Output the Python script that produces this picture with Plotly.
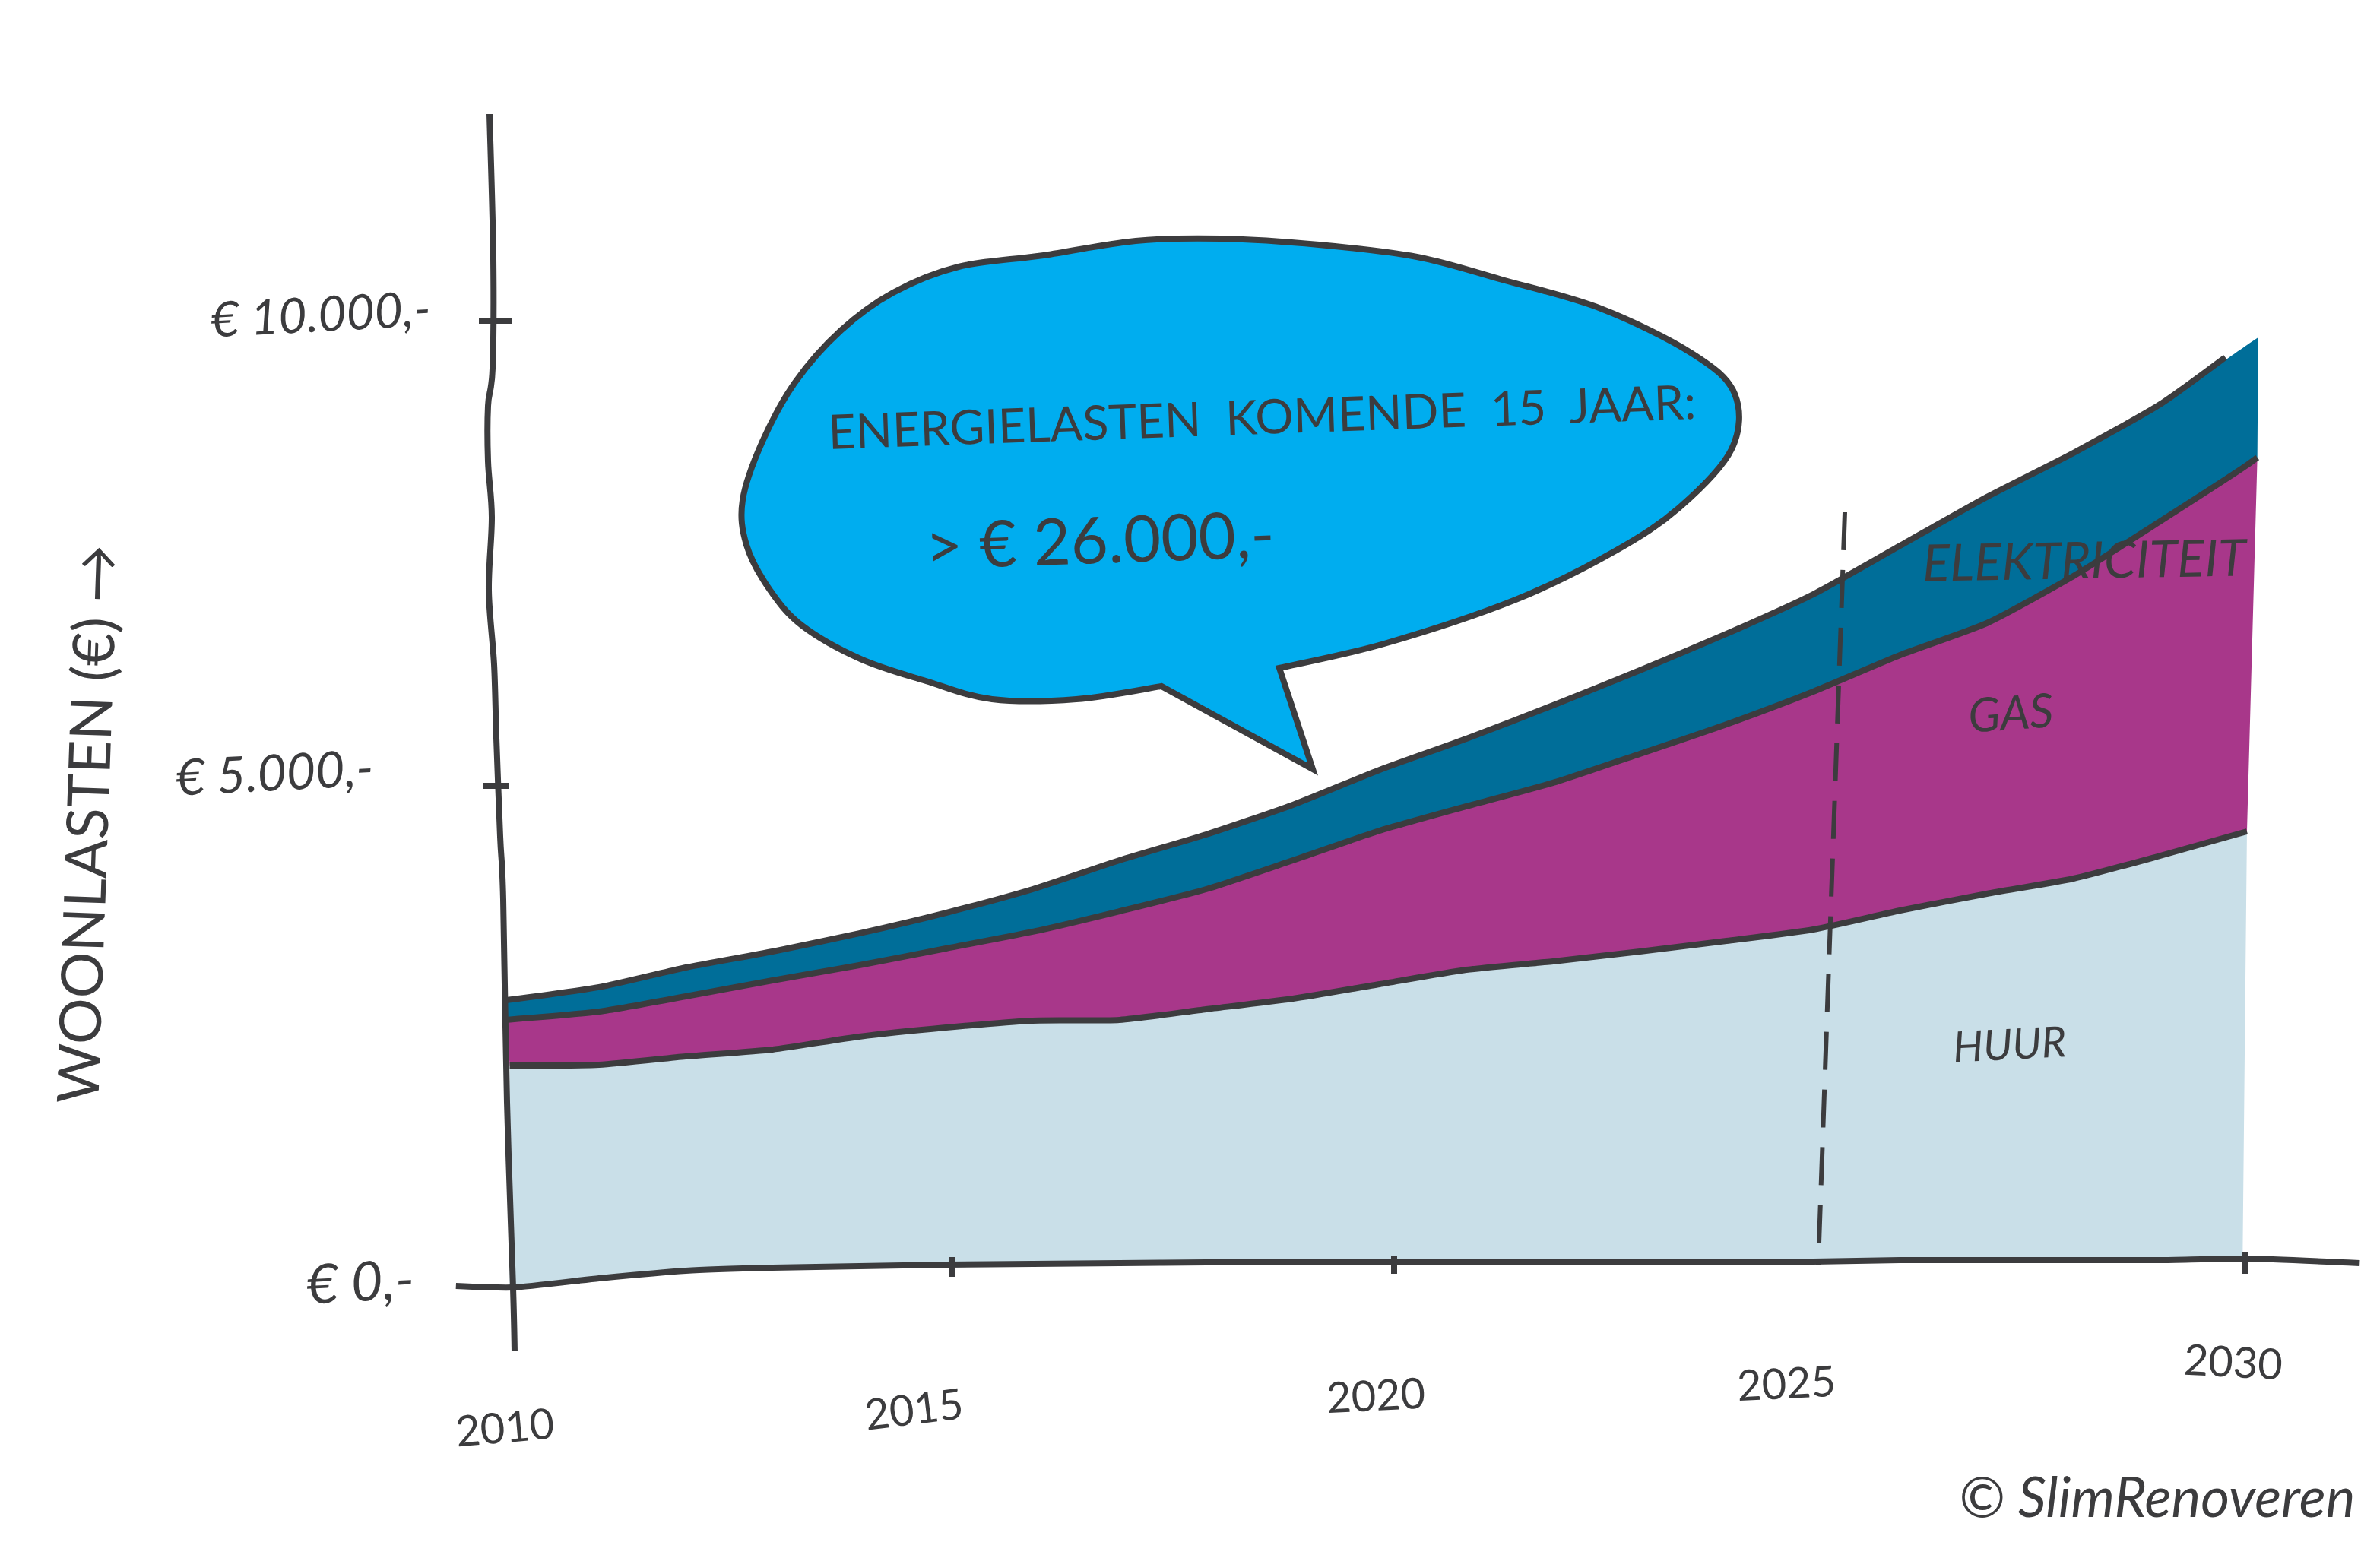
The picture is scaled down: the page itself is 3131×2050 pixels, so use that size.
import plotly.graph_objects as go

# ---------- data (euro per year, cumulative boundaries) ----------
years = list(range(2010, 2031))
baseline = [-193, -96, -16, 16, 32, 48, 56, 64, 72, 80, 80, 80, 80, 80, 80, 80, 96, 96, 96, 96, 112]
huur_top = [2151, 2159, 2247, 2320, 2456, 2552, 2625, 2633, 2745, 2857, 3010, 3162, 3251, 3355, 3467, 3588, 3788, 3965, 4125, 4366, 4623]
gas_top = [2633, 2721, 2881, 3050, 3210, 3387, 3564, 3780, 4013, 4318, 4631, 4888, 5137, 5442, 5755, 6100, 6485, 6822, 7320, 7898, 8491]
elek_top = [2841, 2978, 3186, 3355, 3547, 3764, 4013, 4318, 4591, 4904, 5273, 5602, 5955, 6324, 6710, 7127, 7640, 8154, 8620, 9134, 9760]

# the drawn areas and outlines start and stop at slightly different places
huur_start_x, upper_start_x = 2009.97, 2009.93
base_end_x, huur_end_x = 2029.95, 2030.0
gas_end_x, gas_end_y = 2030.12, 8571
elek_end_x, elek_end_y = 2030.13, 9839
elek_line_end_x, elek_line_end_y = 2029.75, 9630
axis_left_x, axis_left_y = 2009.35, -177
axis_right_x, axis_right_y = 2031.3, 64

x_tick_labels = ["2010", "2015", "2020", "2025", "2030"]
y_tick_labels = ["€ 10.000,-", "€ 5.000,-", "€ 0,-"]
series_labels = ["ELEKTRICITEIT", "GAS", "HUUR"]
bubble_lines = ["ENERGIELASTEN  KOMENDE  15  JAAR:", "> € 26.000,-"]
y_title = "WOONLASTEN (€) →"
credit = "© SlimRenoveren"

# ---------- style ----------
W, H = 3131, 2050
INK = "#3c3c3e"
C_HUUR, C_GAS, C_ELEK, C_BUBBLE = "#c9dfe8", "#a8378a", "#006e99", "#00adef"
FONT = "Lato"
LW = 8


def px(x, y):
    return x / W, 1 - y / H


def smooth(points):
    """Catmull-Rom through the outline points, returned as a cubic path body."""
    s = ""
    n = len(points)
    for i in range(n - 1):
        p0 = points[max(i - 1, 0)]
        p1 = points[i]
        p2 = points[i + 1]
        p3 = points[min(i + 2, n - 1)]
        c1 = (p1[0] + (p2[0] - p0[0]) / 6, p1[1] + (p2[1] - p0[1]) / 6)
        c2 = (p2[0] - (p3[0] - p1[0]) / 6, p2[1] - (p3[1] - p1[1]) / 6)
        a = px(*c1)
        b = px(*c2)
        c = px(*p2)
        s += f"C{a[0]:.5f},{a[1]:.5f} {b[0]:.5f},{b[1]:.5f} {c[0]:.5f},{c[1]:.5f} "
    return s


fig = go.Figure()


def area(xs, ys, color, fill):
    fig.add_trace(go.Scatter(x=xs, y=ys, mode="lines",
                             line=dict(width=0, color=color, shape="spline", smoothing=0.6),
                             fill=fill, fillcolor=color, hoverinfo="skip", showlegend=False))


def outline(xs, ys):
    fig.add_trace(go.Scatter(x=xs, y=ys, mode="lines",
                             line=dict(width=LW, color=INK, shape="spline", smoothing=0.6),
                             hoverinfo="skip", showlegend=False))


base_x = [huur_start_x] + years[1:-1] + [base_end_x]
huur_x = [huur_start_x] + years[1:-1] + [huur_end_x]
gas_x = [upper_start_x] + years[1:] + [gas_end_x]
gas_y = gas_top + [gas_end_y]
elek_x = [upper_start_x] + years[1:] + [elek_end_x]
elek_y = elek_top + [elek_end_y]

area(base_x, baseline, C_HUUR, None)
area(huur_x, huur_top, C_HUUR, "tonexty")
area(gas_x, gas_y, C_GAS, "tonexty")
area(elek_x, elek_y, C_ELEK, "tonexty")

outline([axis_left_x] + years + [axis_right_x], [axis_left_y] + baseline + [axis_right_y])
outline(huur_x, huur_top)
outline(gas_x, gas_y)
outline([upper_start_x] + years[1:-1] + [elek_line_end_x], elek_top[:-1] + [elek_line_end_y])

shapes = []
line = dict(color=INK, width=LW)

# speech bubble
outer = [(1683, 879), (1821, 847), (1994, 789), (2123, 726), (2209, 668), (2278, 591), (2282, 518),
         (2226, 465), (2106, 406), (1976, 368), (1864, 338), (1735, 322), (1606, 314), (1494, 317),
         (1373, 336), (1261, 351), (1175, 385), (1106, 435), (1046, 503), (1003, 581), (977, 658),
         (982, 717), (1012, 775), (1055, 823), (1132, 867), (1218, 896), (1305, 920), (1416, 920), (1528, 903)]
start = px(*outer[0])
tip = px(1727, 1012)
bubble_path = f"M{start[0]:.5f},{start[1]:.5f} " + smooth(outer) + f"L{tip[0]:.5f},{tip[1]:.5f} Z"
shapes.append(dict(type="path", xref="paper", yref="paper", path=bubble_path,
                   fillcolor=C_BUBBLE, line=line))

# hand-drawn y axis and ticks
y_axis = [(644, 150), (649, 340), (648, 485), (642, 534), (642, 607), (647, 680), (643, 777), (650, 874),
          (653, 971), (658, 1101), (662, 1183), (667, 1450), (675, 1695), (677, 1778)]
s0 = px(*y_axis[0])
shapes.append(dict(type="path", xref="paper", yref="paper", line=line,
                   path=f"M{s0[0]:.5f},{s0[1]:.5f} " + smooth(y_axis)))
for seg in ([(630, 422), (673, 422)], [(635, 1034), (670, 1034)],
            [(1252, 1654), (1252, 1680)], [(1834, 1652), (1834, 1676)], [(2954, 1648), (2954, 1676)]):
    shapes.append(dict(type="line", xref="paper", yref="paper", line=line,
                       x0=px(*seg[0])[0], y0=px(*seg[0])[1], x1=px(*seg[1])[0], y1=px(*seg[1])[1]))

# dashed 2025 marker
a, b = px(2427, 674), px(2392, 1664)
shapes.append(dict(type="line", xref="paper", yref="paper", x0=a[0], y0=a[1], x1=b[0], y1=b[1],
                   line=dict(color=INK, width=6, dash="50px,26px")))

annotations = []


def note(text, x, y, size, angle=0, family=FONT, italic=False):
    a, b = px(x, y)
    if italic:
        text = f"<i>{text}</i>"
    annotations.append(dict(text=text, x=a, y=b, xref="paper", yref="paper", showarrow=False,
                            xanchor="center", yanchor="middle", textangle=angle,
                            font=dict(family=family, size=size, color=INK)))


for label, pos, ang in zip(x_tick_labels,
                           [(664, 1876), (1202, 1852), (1810, 1834), (2350, 1818), (2938, 1790)],
                           [-5, -7, -3, -3, 3]):
    note(label, pos[0], pos[1], 56, ang)

for label, pos, size in zip(y_tick_labels, [(422, 412), (361, 1014), (474, 1684)], [64, 66, 72]):
    note(label, pos[0], pos[1], size, -3, italic=True)

note(y_title, 112, 1084, 76, -88)
note(bubble_lines[0], 1660, 546, 63, -2)
note(bubble_lines[1], 1447, 708, 85, -2)
note(series_labels[0], 2743, 735, 67, -1, italic=True)
note(series_labels[1], 2645, 936, 62, -4, italic=True)
note(series_labels[2], 2643, 1372, 56, -3, italic=True)
note(credit, 2837, 1968, 73, 0, italic=True)

fig.update_layout(
    width=W, height=H, margin=dict(l=0, r=0, t=0, b=0),
    paper_bgcolor="white", plot_bgcolor="white", showlegend=False,
    xaxis=dict(range=[2004.093, 2031.534], visible=False, fixedrange=True),
    yaxis=dict(range=[-3049.8, 13403], visible=False, fixedrange=True),
    shapes=shapes, annotations=annotations,
)

fig.write_html("out.html", config=dict(displayModeBar=False),
               post_script="document.body.style.margin='0';")
